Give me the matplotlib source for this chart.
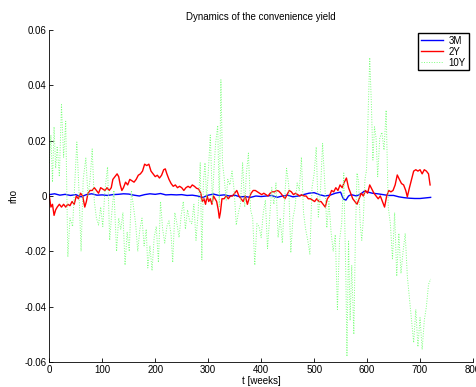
import numpy as np
import matplotlib
matplotlib.use("Agg")
import matplotlib.pyplot as plt

# weekly convenience yield at a coarse step
t_3m = [0, 10, 20, 30, 40, 50, 60, 70, 80, 90, 100, 110, 120, 130, 140, 150, 160, 170, 180, 190,
        200, 210, 220, 230, 240, 250, 260, 270, 280, 290, 300, 310, 320, 330, 340, 350, 360, 370,
        380, 390, 400, 410, 420, 430, 440, 450, 460, 470, 480, 490, 500, 510, 520, 530, 540, 550,
        555, 560, 565, 570, 580, 590, 595, 600, 610, 620, 630, 640, 650, 660, 670, 680, 690, 700,
        710, 720]
rho_3m = [0.0005, 0.0008, 0.0003, 0.0006, 0.0002, 0.0005, -0.0003, 0.0005, 0.0008, 0.0003,
          0.0004, 0.0002, 0.0005, 0.0006, 0.0008, 0.0007, 0.0003, 0.0000, 0.0005, 0.0008,
          0.0006, 0.0009, 0.0004, 0.0005, 0.0004, 0.0005, 0.0002, 0.0003, 0.0000, -0.0005,
          0.0003, 0.0007, 0.0002, 0.0004, 0.0000, 0.0003, -0.0003, -0.0002, -0.0005, 0.0000,
          -0.0002, 0.0000, 0.0002, -0.0005, 0.0000, 0.0003, -0.0003, 0.0000, 0.0005, 0.0010,
          0.0012, 0.0005, 0.0000, 0.0003, 0.0010, 0.0014, -0.0010, -0.0015, 0.0000, 0.0005,
          0.0000, 0.0010, 0.0018, 0.0015, 0.0010, 0.0008, 0.0005, 0.0002, 0.0002, -0.0003,
          -0.0006, -0.0008, -0.0009, -0.0009, -0.0007, -0.0005]

t_2y = [0, 3, 6, 9, 12, 15, 19, 23, 27, 31, 35, 39, 43, 47, 51, 55, 59, 63, 67, 70, 73, 77, 81,
        85, 89, 93, 97, 101, 105, 109, 113, 117, 120, 124, 128, 131, 134, 137, 140, 144, 148,
        152, 156, 160, 164, 168, 172, 176, 180, 184, 188, 192, 196, 200, 204, 208, 212, 216,
        219, 222, 226, 230, 234, 238, 242, 246, 250, 254, 258, 262, 266, 270, 274, 278, 282,
        286, 289, 292, 295, 298, 301, 304, 307, 310, 313, 316, 319, 321, 323, 326, 330, 334,
        338, 342, 346, 350, 354, 358, 362, 366, 370, 374, 377, 381, 385, 389, 393, 397, 401,
        405, 409, 413, 417, 421, 425, 429, 433, 437, 441, 445, 449, 453, 457, 461, 465, 469,
        473, 477, 481, 485, 489, 493, 497, 501, 505, 509, 513, 517, 521, 525, 529, 533, 537,
        541, 545, 549, 553, 557, 561, 565, 569, 573, 577, 581, 585, 589, 593, 597, 601, 605,
        609, 613, 617, 621, 625, 629, 633, 637, 641, 645, 649, 653, 657, 661, 665, 669, 673,
        676, 680, 684, 688, 692, 696, 700, 704, 708, 712, 716, 719]
rho_2y = [0.000, -0.004, -0.003, -0.007, -0.005, -0.004, -0.003, -0.004, -0.003, -0.004,
          -0.003, -0.0035, -0.002, -0.003, 0.000, -0.001, 0.001, 0.000, -0.004, -0.002,
          0.001, 0.002, 0.002, 0.003, 0.002, 0.001, 0.003, 0.0025, 0.002, 0.003, 0.002,
          0.003, 0.006, 0.007, 0.008, 0.007, 0.004, 0.002, 0.003, 0.005, 0.004, 0.006,
          0.0055, 0.005, 0.006, 0.0075, 0.008, 0.009, 0.0115, 0.011, 0.0115, 0.009, 0.008,
          0.007, 0.0075, 0.0065, 0.0075, 0.0095, 0.0098, 0.008, 0.006, 0.0045, 0.0035,
          0.004, 0.003, 0.0035, 0.003, 0.002, 0.003, 0.0035, 0.003, 0.004, 0.0035, 0.0028,
          0.0025, 0.001, -0.002, -0.001, -0.003, 0.000, -0.002, -0.001, -0.003, 0.000,
          -0.001, -0.002, -0.005, -0.008, -0.006, -0.001, -0.001, 0.000, -0.001, 0.000,
          0.000, 0.001, 0.002, 0.000, -0.001, -0.002, 0.000, -0.003, -0.001, 0.001, 0.002,
          0.002, 0.0015, 0.001, 0.0005, 0.001, 0.0005, 0.000, 0.001, 0.0015, 0.0015, 0.002,
          0.0018, 0.001, 0.000, -0.001, 0.0005, 0.002, 0.0015, 0.0005, 0.001, 0.0005, 0.000,
          0.0005, 0.000, 0.000, -0.001, -0.001, -0.0015, -0.002, -0.001, -0.002, -0.002,
          -0.003, -0.004, -0.001, 0.000, 0.002, 0.0015, 0.003, 0.002, 0.004, 0.003, 0.005,
          0.0065, 0.003, 0.001, -0.001, -0.002, -0.003, -0.001, 0.001, 0.000, 0.002, 0.001,
          0.004, 0.0025, 0.001, 0.000, -0.001, 0.000, -0.002, -0.004, 0.000, 0.002, 0.0015,
          0.002, 0.004, 0.0076, 0.006, 0.0045, 0.004, 0.002, -0.0003, 0.003, 0.006, 0.009,
          0.0095, 0.009, 0.0095, 0.008, 0.0095, 0.009, 0.008, 0.004]

t_10y = [0, 3, 6, 9, 12, 15, 19, 23, 27, 31, 35, 39, 44, 48, 52, 56, 60, 64, 69, 73, 77, 81, 85,
         89, 93, 97, 101, 105, 110, 114, 118, 122, 127, 131, 135, 139, 143, 147, 151, 155, 159,
         163, 167, 171, 175, 179, 183, 186, 190, 194, 198, 202, 206, 210, 214, 218, 222, 226,
         230, 233, 237, 241, 245, 249, 253, 257, 261, 265, 269, 273, 277, 281, 285, 288, 291,
         294, 297, 300, 304, 308, 311, 314, 318, 321, 324, 327, 330, 334, 337, 341, 345, 349,
         353, 357, 361, 365, 369, 372, 376, 380, 384, 388, 392, 396, 400, 404, 408, 412, 416,
         420, 424, 428, 432, 436, 440, 444, 448, 452, 456, 460, 464, 468, 472, 476, 480, 484,
         488, 492, 496, 500, 504, 508, 512, 516, 520, 524, 528, 532, 536, 540, 544, 548, 552,
         556, 560, 562, 565, 568, 571, 575, 578, 581, 584, 587, 590, 593, 596, 599, 602, 605,
         608, 611, 614, 617, 620, 624, 628, 632, 636, 640, 644, 648, 652, 656, 660, 664, 668,
         672, 676, 680, 684, 688, 692, 696, 700, 704, 708, 712, 716, 720]
rho_10y = [0.012, 0.022, 0.005, 0.025, 0.010, 0.018, 0.007, 0.033, 0.014, 0.027, -0.022,
           -0.008, -0.011, 0.004, 0.0195, 0.002, -0.020, 0.006, 0.0137, 0.000, 0.006, 0.017,
           -0.002, -0.008, -0.0105, -0.004, -0.011, 0.002, 0.0105, -0.016, -0.006, 0.002,
           -0.020, -0.008, -0.012, -0.006, -0.025, -0.013, -0.020, 0.002, -0.004, -0.010,
           -0.020, -0.012, -0.008, -0.018, -0.012, -0.026, -0.018, -0.027, -0.015, -0.011,
           -0.024, -0.002, -0.012, -0.017, -0.011, -0.009, -0.014, -0.024, -0.006, -0.010,
           -0.015, -0.007, -0.002, -0.012, -0.005, -0.009, -0.010, -0.003, -0.016, -0.006,
           0.012, -0.023, 0.005, 0.012, -0.001, 0.008, 0.022, -0.0025, 0.010, 0.019, 0.0255,
           -0.004, 0.042, 0.012, 0.007, -0.0015, 0.006, 0.004, 0.009, 0.002, -0.0105, -0.006,
           -0.003, 0.012, -0.004, 0.008, 0.0155, -0.005, -0.008, -0.025, -0.010, -0.011,
           -0.015, -0.006, -0.0015, -0.019, -0.008, 0.003, -0.003, 0.0047, -0.015, -0.008,
           -0.017, -0.002, 0.010, 0.004, -0.0205, -0.008, -0.004, 0.0047, 0.002, 0.014,
           -0.006, -0.012, -0.016, -0.021, 0.003, 0.008, 0.0177, -0.0076, 0.002, 0.019,
           0.005, -0.0115, -0.002, -0.013, -0.020, -0.014, -0.041, -0.016, -0.010, 0.0083,
           -0.030, -0.058, -0.016, -0.045, -0.025, -0.050, -0.014, 0.0083, 0.005, -0.010,
           -0.016, -0.008, 0.006, 0.0094, 0.030, 0.050, 0.034, 0.013, 0.025, 0.021, 0.007,
           0.021, 0.023, 0.0166, 0.031, -0.004, -0.010, -0.023, -0.006, -0.029, -0.0135,
           -0.028, -0.020, -0.0135, -0.029, -0.037, -0.045, -0.053, -0.041, -0.0545, -0.044,
           -0.0555, -0.045, -0.040, -0.032, -0.030]

plt.rcParams['font.family'] = ['Liberation Sans', 'DejaVu Sans']
plt.rcParams['axes.unicode_minus'] = False

fig = plt.figure(figsize=(4.77, 3.87), dpi=100)
ax = fig.add_axes([49.3 / 477, 25 / 387, (473 - 49.3) / 477, (362 - 30) / 387])

ax.plot(t_3m, rho_3m, color='#0000ff', lw=1.0, label='3M')
ax.plot(t_2y, rho_2y, color='#ff0000', lw=1.0, label='2Y')
ax.plot(t_10y, rho_10y, color='#7dff7d', lw=0.7, ls=(0, (1, 1.6)), label='10Y')

ax.set_xlim(0, 800)
ax.set_ylim(-0.06, 0.06)
ax.set_xticks(np.arange(0, 801, 100))
ax.set_yticks([-0.06, -0.04, -0.02, 0, 0.02, 0.04, 0.06])
ax.set_yticklabels(['-0.06', '-0.04', '-0.02', '0', '0.02', '0.04', '0.06'])
ax.tick_params(direction='in', length=3, width=0.6, labelsize=7, pad=2)
for side in ['top', 'right']:
    ax.spines[side].set_visible(False)
for side in ['left', 'bottom']:
    ax.spines[side].set_linewidth(0.6)

ax.set_title('Dynamics of the convenience yield', fontsize=7, pad=7)
ax.set_xlabel('t [weeks]', fontsize=7, labelpad=1)
ax.set_ylabel('rho', fontsize=7, labelpad=4)

leg = ax.legend(loc='upper right', bbox_to_anchor=(0.99, 0.992), fontsize=7, fancybox=False,
                framealpha=1, edgecolor='black', handlelength=2.2, borderpad=0.3,
                labelspacing=0.1, handletextpad=0.6, borderaxespad=0)
leg.get_frame().set_linewidth(1.0)

fig.savefig('out.png', dpi=100)
